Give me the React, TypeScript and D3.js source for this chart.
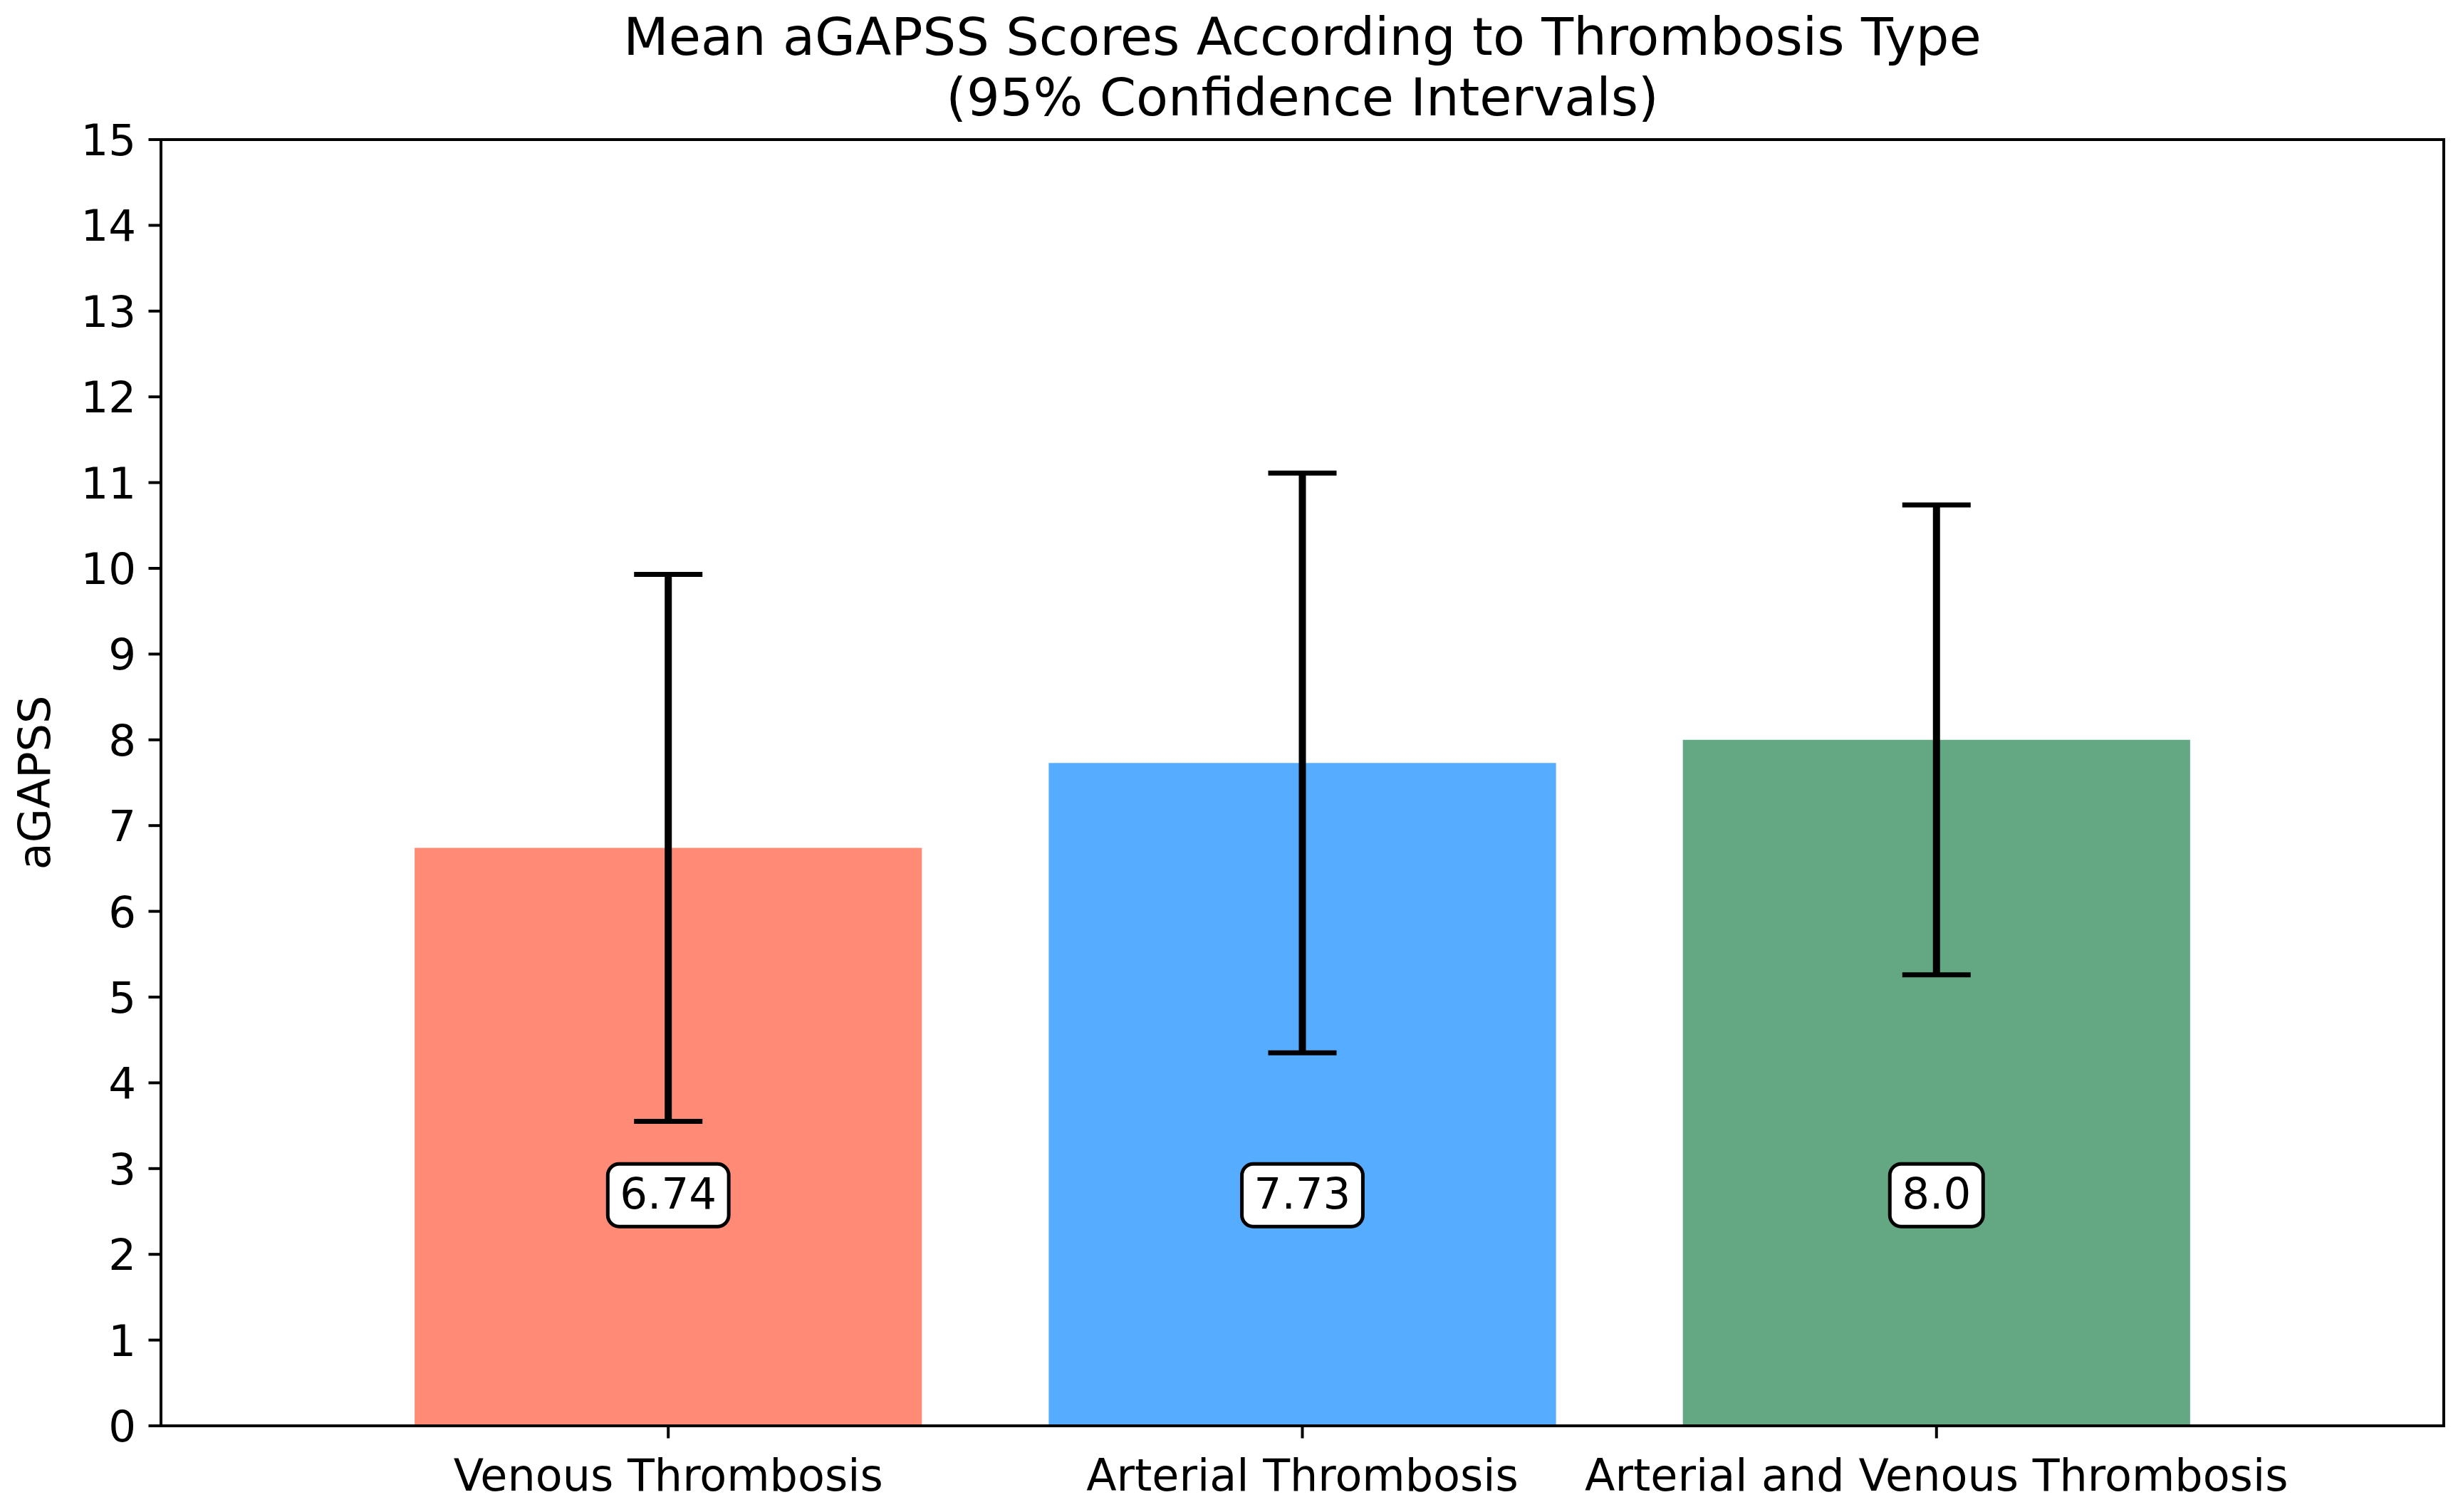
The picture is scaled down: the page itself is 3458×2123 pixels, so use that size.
import { useRef, useEffect } from 'react';
import * as d3 from 'd3';

const categories = ['Venous Thrombosis', 'Arterial Thrombosis', 'Arterial and Venous Thrombosis'];
const means = [6.74, 7.73, 8.0];
const ciLow = [3.55, 4.35, 5.26];
const ciHigh = [9.93, 11.11, 10.74];
const meanLabels = ['6.74', '7.73', '8.0'];
const barColors = ['#FF8A75', '#56ACFF', '#63A882'];
const yTicks = d3.range(0, 16);

const W = 3458;
const H = 2123;
const FONT = '"DejaVu Sans", sans-serif';

export default function App() {
  const svgRef = useRef<SVGSVGElement>(null);

  useEffect(() => {
    if (!svgRef.current) return;
    const svg = d3.select(svgRef.current);
    svg.selectAll('*').remove();

    const margin = { top: 196, right: W - 3431, bottom: H - 2002, left: 226 };
    const innerW = W - margin.left - margin.right;
    const innerH = H - margin.top - margin.bottom;

    const g = svg.append('g').attr('transform', `translate(${margin.left},${margin.top})`);

    const x = d3.scaleLinear().domain([-0.8, categories.length - 1 + 0.8]).range([0, innerW]);
    const y = d3.scaleLinear().domain([0, 15]).range([innerH, 0]);
    const barW = x(0.8) - x(0);

    // bars
    g.selectAll('rect.bar')
      .data(means)
      .join('rect')
      .attr('class', 'bar')
      .attr('x', (_, i) => x(i) - barW / 2)
      .attr('y', d => y(d))
      .attr('width', barW)
      .attr('height', d => innerH - y(d))
      .attr('fill', (_, i) => barColors[i]);

    // error bars
    const capHalf = 48;
    means.forEach((_, i) => {
      const cx = x(i);
      g.append('line')
        .attr('x1', cx).attr('x2', cx)
        .attr('y1', y(ciLow[i])).attr('y2', y(ciHigh[i]))
        .attr('stroke', '#000').attr('stroke-width', 10);
      [ciLow[i], ciHigh[i]].forEach(v => {
        g.append('line')
          .attr('x1', cx - capHalf).attr('x2', cx + capHalf)
          .attr('y1', y(v)).attr('y2', y(v))
          .attr('stroke', '#000').attr('stroke-width', 7);
      });
    });

    // value labels in rounded boxes
    const labelY = 2.69;
    const fs = 61;
    means.forEach((_, i) => {
      const cx = x(i);
      const baseline = y(labelY) + 19;
      const lg = g.append('g');
      const box = lg.append('rect');
      const t = lg.append('text')
        .attr('x', cx).attr('y', baseline)
        .attr('text-anchor', 'middle')
        .attr('font-family', FONT).attr('font-size', fs)
        .attr('fill', '#000')
        .text(meanLabels[i]);
      const tw = (t.node() as SVGTextElement).getComputedTextLength();
      const pad = 17;
      box.attr('x', cx - tw / 2 - pad)
        .attr('y', baseline - 1.03 * fs)
        .attr('width', tw + 2 * pad)
        .attr('height', 1.44 * fs)
        .attr('rx', 16).attr('ry', 16)
        .attr('fill', '#fff')
        .attr('stroke', '#000')
        .attr('stroke-width', 5);
    });

    // y axis ticks and labels
    const tickLen = 17.5;
    yTicks.forEach(v => {
      g.append('line')
        .attr('x1', -tickLen).attr('x2', 0)
        .attr('y1', y(v)).attr('y2', y(v))
        .attr('stroke', '#000').attr('stroke-width', 4);
      g.append('text')
        .attr('x', -tickLen - 17.5)
        .attr('y', y(v))
        .attr('dy', '0.36em')
        .attr('text-anchor', 'end')
        .attr('font-family', FONT).attr('font-size', 61)
        .attr('fill', '#000')
        .text(v);
    });

    // x axis ticks and labels
    categories.forEach((c, i) => {
      g.append('line')
        .attr('x1', x(i)).attr('x2', x(i))
        .attr('y1', innerH).attr('y2', innerH + tickLen)
        .attr('stroke', '#000').attr('stroke-width', 4);
      g.append('text')
        .attr('x', x(i))
        .attr('y', innerH + 91)
        .attr('text-anchor', 'middle')
        .attr('font-family', FONT).attr('font-size', 62)
        .attr('fill', '#000')
        .text(c);
    });

    // frame
    g.append('rect')
      .attr('x', 0).attr('y', 0)
      .attr('width', innerW).attr('height', innerH)
      .attr('fill', 'none')
      .attr('stroke', '#000')
      .attr('stroke-width', 4);

    // y label
    svg.append('text')
      .attr('transform', `translate(70,${margin.top + innerH / 2}) rotate(-90)`)
      .attr('text-anchor', 'middle')
      .attr('font-family', FONT).attr('font-size', 62)
      .attr('fill', '#000')
      .text('aGAPSS');

    // title
    const titleLines = ['Mean aGAPSS Scores According to Thrombosis Type', '(95% Confidence Intervals)'];
    titleLines.forEach((line, i) => {
      svg.append('text')
        .attr('x', margin.left + innerW / 2)
        .attr('y', 77 + i * 85)
        .attr('text-anchor', 'middle')
        .attr('font-family', FONT).attr('font-size', 73.5)
        .attr('fill', '#000')
        .text(line);
    });
  }, []);

  return (
    <div style={{ position: 'absolute', left: 0, top: 0, background: '#fff' }}>
      <svg ref={svgRef} width={W} height={H} style={{ display: 'block', background: '#fff' }} />
    </div>
  );
}
